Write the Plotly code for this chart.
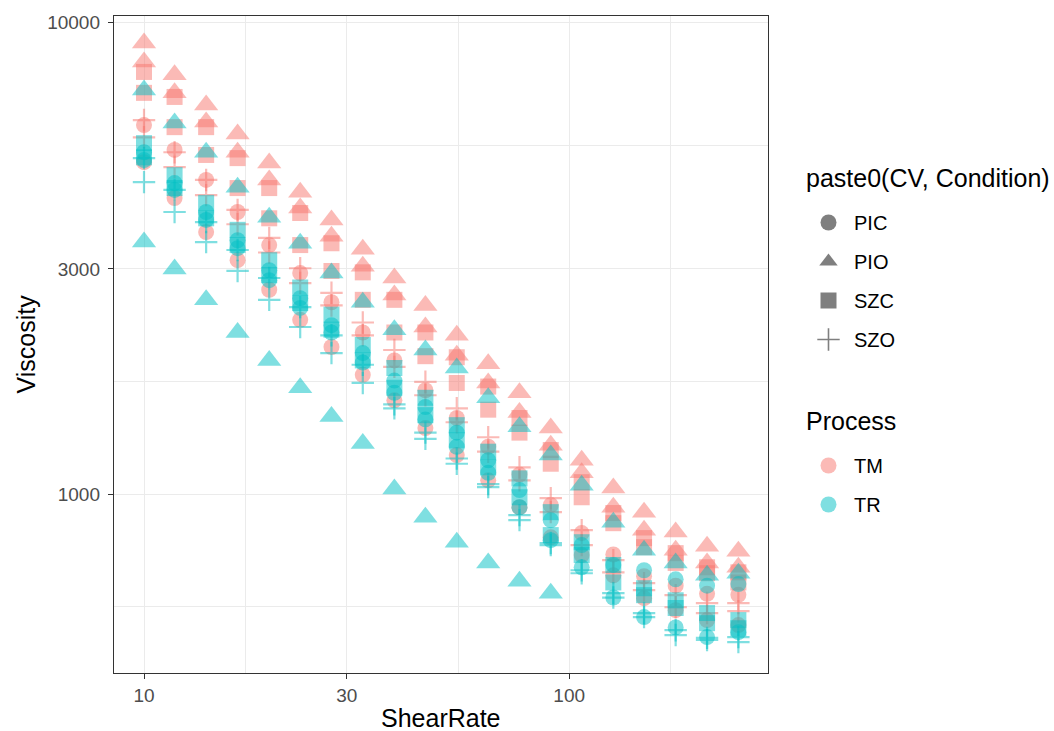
import math
import plotly.graph_objects as go

# ---------------- data ----------------
SHEAR_RATE = [10.0, 11.8, 14.0, 16.6, 19.7, 23.3, 27.6, 32.7, 38.8, 45.9,
              54.4, 64.5, 76.4, 90.5, 107, 127, 150, 178, 211, 250]

TM_PIO_1 = [9030, 7730, 6670, 5790, 5030, 4360, 3810, 3300, 2870, 2510,
            2170, 1890, 1640, 1380, 1180, 1030, 916, 831, 776, 757]
TM_PIO_2 = [8230, 7080, 6140, 5300, 4630, 4040, 3520, 3040, 2640, 2260,
            1970, 1720, 1490, 1270, 1110, 938, 839, 761, 715, 700]
TM_SZC_1 = [7840, 6940, 5990, 5150, 4450, 3940, 3400, 2950, 2580, 2200,
            1950, 1690, 1450, 1240, 1060, 912, 807, 750, 700, 683]
TM_SZC_2 = [7080, 5990, 5230, 4450, 3840, 3370, 2970, 2580, 2200, 1960,
            1720, 1510, 1350, 1160, 985, 868, 772, 715, 680, 650]
TM_SZO_1 = [6200, 5300, 4630, 4000, 3490, 3010, 2670, 2310, 2020, 1730,
            1520, 1320, 1140, 981, 839, 725, 648, 611, 588, 588]
TM_SZO_2 = [5700, 4930, 4300, 3730, 3250, 2800, 2510, 2170, 1860, 1620,
            1420, 1230, 1070, 916, 780, 683, 626, 576, 560, 565]
TM_PIC_1 = [6050, 5360, 4630, 3960, 3370, 2940, 2550, 2200, 1920, 1660,
            1450, 1260, 1100, 948, 827, 745, 670, 640, 615, 612]
TM_PIC_2 = [5050, 4240, 3590, 3130, 2710, 2340, 2050, 1790, 1580, 1380,
            1210, 1070, 938, 810, 743, 673, 602, 568, 541, 528]

TR_PIO_1 = [7180, 6110, 5300, 4470, 3860, 3400, 2940, 2550, 2230, 2020,
            1850, 1600, 1390, 1210, 1045, 872, 761, 715, 673, 680]
TR_PIO_2 = [3420, 3000, 2580, 2200, 1920, 1680, 1460, 1280, 1025, 894,
            791, 715, 654, 617]
TR_SZC_1 = [5540, 4740, 4140, 3630, 3130, 2740, 2400, 2070, 1850, 1600,
            1400, 1230, 1080, 916, 791, 708, 632, 596, 560, 541]
TR_SZC_2 = [5170, 4450, 3840, 3370, 2910, 2540, 2230, 1920, 1680, 1470,
            1300, 1140, 985, 819, 743, 650, 611, 574, 533, 520]
TR_PIC_1 = [5100, 4410, 3810, 3320, 2840, 2480, 2200, 1900, 1640, 1440,
            1260, 1110, 938, 799, 700, 604, 549, 522, 498, 510]
TR_PIC_2 = [5300, 4560, 3960, 3450, 2980, 2600, 2280, 1990, 1740, 1530,
            1350, 1180, 1020, 881, 780, 708, 690, 660, 640, 645]
TR_SZO_1 = [4580, 3960, 3420, 2970, 2580, 2260, 1990, 1720, 1520, 1310,
            1160, 1035, 881, 780, 680, 604, 549, 503, 491, 486]
TR_SZO_2 = [5150, 4410, 3770, 3290, 2870, 2490, 2170, 1880, 1550, 1350,
            1190, 1050, 903, 788, 690, 617, 560, 515, 496, 498]

CONDITIONS = ["PIC", "PIO", "SZC", "SZO"]
PROCESSES = ["TM", "TR"]
X_TICKS = [10, 30, 100]
Y_TICKS = [1000, 3000, 10000]

SERIES = [
    ("TM", "PIC", TM_PIC_1), ("TM", "PIC", TM_PIC_2),
    ("TM", "PIO", TM_PIO_1), ("TM", "PIO", TM_PIO_2),
    ("TM", "SZC", TM_SZC_1), ("TM", "SZC", TM_SZC_2),
    ("TM", "SZO", TM_SZO_1), ("TM", "SZO", TM_SZO_2),
    ("TR", "PIC", TR_PIC_1), ("TR", "PIC", TR_PIC_2),
    ("TR", "PIO", TR_PIO_1), ("TR", "PIO", TR_PIO_2),
    ("TR", "SZC", TR_SZC_1), ("TR", "SZC", TR_SZC_2),
    ("TR", "SZO", TR_SZO_1), ("TR", "SZO", TR_SZO_2),
]

# ---------------- styles ----------------
PROC_COLOR = {"TM": "rgba(248,118,109,0.5)", "TR": "rgba(0,191,196,0.5)"}
SYMBOL = {"PIC": "circle", "PIO": "triangle-up", "SZC": "square", "SZO": "cross-thin"}
SIZE = {"PIC": 16, "PIO": 21, "SZC": 16, "SZO": 16}

fig = go.Figure()

for proc, cond, vals in SERIES:
    col = PROC_COLOR[proc]
    marker = dict(symbol=SYMBOL[cond], size=SIZE[cond], color=col)
    if cond == "SZO":
        marker["line"] = dict(color=col, width=2.2)
    else:
        marker["line"] = dict(width=0)
    fig.add_trace(go.Scatter(
        x=SHEAR_RATE[:len(vals)], y=vals, mode="markers",
        marker=marker, showlegend=False, hoverinfo="x+y"))

# legend entries: shape legend
for cond in CONDITIONS:
    marker = dict(symbol=SYMBOL[cond], size=16, color="rgba(0,0,0,0.5)")
    if cond == "SZO":
        marker["line"] = dict(color="rgba(0,0,0,0.5)", width=1.6)
    else:
        marker["line"] = dict(width=0)
    fig.add_trace(go.Scatter(
        x=[None], y=[None], mode="markers", name=cond, marker=marker,
        legend="legend", legendgroup="c_" + cond, showlegend=True))

# legend entries: colour legend
for proc in PROCESSES:
    fig.add_trace(go.Scatter(
        x=[None], y=[None], mode="markers", name=proc,
        marker=dict(symbol="circle", size=16, color=PROC_COLOR[proc], line=dict(width=0)),
        legend="legend2", legendgroup="p_" + proc, showlegend=True))

GRID = "#EBEBEB"
AXLINE = "#333333"
PLOT_L, PLOT_R, PLOT_T, PLOT_B = 114, 768, 16, 673
W, H = 1054, 731


def px_x(x):
    return (x - PLOT_L) / (PLOT_R - PLOT_L)


def px_y(y):
    return (PLOT_B - y) / (PLOT_B - PLOT_T)


axis_common = dict(
    type="log", showgrid=True, gridcolor=GRID, gridwidth=1.3,
    showline=True, linecolor=AXLINE, linewidth=1.4, mirror=True,
    ticks="outside", ticklen=5, tickwidth=1.2, tickcolor=AXLINE,
    tickfont=dict(size=19, color="#4D4D4D"), zeroline=False, automargin=False,
    tickmode="array",
)

fig.update_layout(
    width=W, height=H,
    margin=dict(l=PLOT_L, r=W - PLOT_R, t=PLOT_T, b=H - PLOT_B),
    paper_bgcolor="white", plot_bgcolor="white",
    font=dict(family="Liberation Sans, Arial, sans-serif", color="black"),
    xaxis=dict(
        axis_common,
        range=[math.log10(8.5), math.log10(293.5)],
        tickvals=X_TICKS, ticktext=[str(v) for v in X_TICKS],
        minor=dict(tickmode="array", tickvals=[17.32, 54.77, 173.2],
                   showgrid=True, gridcolor=GRID, gridwidth=0.7, ticks=""),
        ticklabelstandoff=0,
    ),
    yaxis=dict(
        axis_common,
        range=[math.log10(418), math.log10(10300)],
        tickvals=Y_TICKS, ticktext=[str(v) for v in Y_TICKS],
        minor=dict(tickmode="array", tickvals=[577.4, 1732, 5477],
                   showgrid=True, gridcolor=GRID, gridwidth=0.7, ticks=""),
        ticklabelstandoff=4,
    ),
    legend=dict(
        font=dict(size=20, color="black"),
        x=px_x(803), y=px_y(203), xanchor="left", yanchor="top",
        bgcolor="rgba(0,0,0,0)", tracegroupgap=10, itemsizing="trace", itemwidth=41,
    ),
    legend2=dict(
        font=dict(size=20, color="black"),
        x=px_x(803), y=px_y(446), xanchor="left", yanchor="top",
        bgcolor="rgba(0,0,0,0)", tracegroupgap=10, itemsizing="trace", itemwidth=41,
    ),
    annotations=[
        dict(text="paste0(CV, Condition)", x=px_x(804), y=px_y(178), xref="paper", yref="paper",
             xanchor="left", yanchor="middle", showarrow=False, font=dict(size=25, color="black")),
        dict(text="Process", x=px_x(804), y=px_y(421), xref="paper", yref="paper",
             xanchor="left", yanchor="middle", showarrow=False, font=dict(size=25, color="black")),
        dict(text="ShearRate", x=px_x((PLOT_L + PLOT_R) / 2), y=px_y(718), xref="paper", yref="paper",
             xanchor="center", yanchor="middle", showarrow=False, font=dict(size=25, color="black")),
        dict(text="Viscosity", x=px_x(25), y=px_y((PLOT_T + PLOT_B) / 2), xref="paper", yref="paper",
             xanchor="center", yanchor="middle", showarrow=False, textangle=-90,
             font=dict(size=25, color="black")),
    ],
)

fig.write_html("out.html")
